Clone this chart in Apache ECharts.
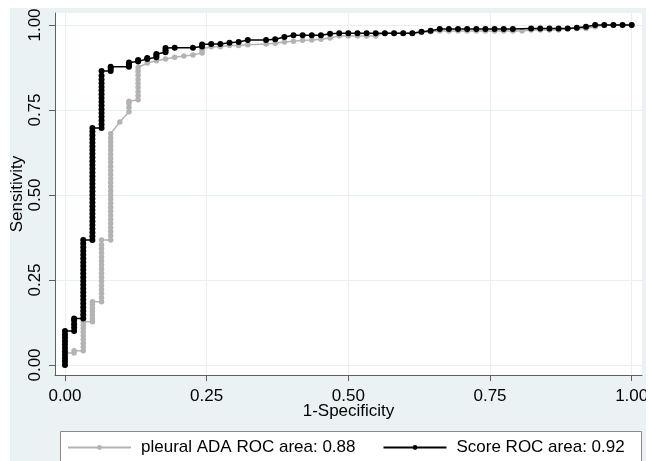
<!DOCTYPE html>
<html>
<head>
<meta charset="utf-8">
<script src="https://cdn.jsdelivr.net/npm/echarts@6.0.0/dist/echarts.min.js"></script>
<style>
    html, body { margin: 0; padding: 0; background: #fff; }
    #chart { position: absolute; left: 10px; top: 8px; width: 636px; height: 453px; }
</style>
</head>
<body>
<div id="chart"></div>
<script>
// number of non-diseased cases: 1-Specificity moves in steps of 1/62
var nNeg = 62;

// [false positives, sensitivity] (black)
var scoreRoc = [
    [0, 0], [0, 0.01], [0, 0.02], [0, 0.03], [0, 0.04], [0, 0.05], [0, 0.06], [0, 0.07], [0, 0.08], [0, 0.09], [0, 0.10],
    [1, 0.10], [1, 0.11], [1, 0.12], [1, 0.13], [1, 0.137],
    [2, 0.137], [2, 0.148], [2, 0.159], [2, 0.17], [2, 0.181], [2, 0.192], [2, 0.203], [2, 0.214], [2, 0.225], [2, 0.236],
    [2, 0.247], [2, 0.258], [2, 0.269], [2, 0.28], [2, 0.291], [2, 0.302], [2, 0.313], [2, 0.324], [2, 0.335], [2, 0.346],
    [2, 0.357], [2, 0.368],
    [3, 0.368], [3, 0.379], [3, 0.39], [3, 0.401], [3, 0.412], [3, 0.423], [3, 0.434], [3, 0.445], [3, 0.456], [3, 0.467],
    [3, 0.478], [3, 0.489], [3, 0.5], [3, 0.511], [3, 0.522], [3, 0.533], [3, 0.544], [3, 0.555], [3, 0.566], [3, 0.577],
    [3, 0.588], [3, 0.599], [3, 0.61], [3, 0.621], [3, 0.632], [3, 0.643], [3, 0.654], [3, 0.665], [3, 0.676], [3, 0.687],
    [3, 0.697],
    [4, 0.697], [4, 0.708], [4, 0.719], [4, 0.73], [4, 0.741], [4, 0.752], [4, 0.763], [4, 0.774], [4, 0.785], [4, 0.796],
    [4, 0.807], [4, 0.818], [4, 0.829], [4, 0.84], [4, 0.851], [4, 0.865],
    [5, 0.865], [5, 0.871], [5, 0.877],
    [7, 0.877], [7, 0.884], [7, 0.89],
    [8, 0.893], [8, 0.897], [9, 0.9], [9, 0.903],
    [10, 0.905], [10, 0.91], [10, 0.915],
    [11, 0.92], [11, 0.926], [11, 0.932],
    [12, 0.933], [14, 0.933], [15, 0.937], [15, 0.943], [16, 0.944], [17, 0.944], [18, 0.948], [19, 0.95],
    [20, 0.956], [22, 0.956], [23, 0.958], [24, 0.965], [25, 0.97], [26, 0.97], [27, 0.97], [28, 0.97],
    [29, 0.974], [30, 0.976], [31, 0.976], [32, 0.976], [33, 0.976], [34, 0.976], [35, 0.976], [36, 0.976],
    [37, 0.976], [38, 0.976], [39, 0.98], [40, 0.983], [41, 0.988], [42, 0.988], [43, 0.988], [44, 0.988],
    [45, 0.988], [46, 0.988], [47, 0.988], [48, 0.988], [49, 0.988], [51, 0.99], [52, 0.99], [53, 0.99],
    [54, 0.99], [55, 0.99], [56, 0.992], [57, 0.995], [58, 1], [59, 1], [60, 1], [61, 1], [62, 1]
];

// [false positives, sensitivity] (grey)
var adaRoc = [
    [0, 0], [0, 0.012], [0, 0.024], [0, 0.035],
    [1, 0.035], [1, 0.042],
    [2, 0.042], [2, 0.053], [2, 0.064], [2, 0.075], [2, 0.086], [2, 0.097], [2, 0.108], [2, 0.118], [2, 0.127],
    [3, 0.127], [3, 0.137], [3, 0.147], [3, 0.157], [3, 0.167], [3, 0.177], [3, 0.186],
    [4, 0.186], [4, 0.198], [4, 0.21], [4, 0.222], [4, 0.234], [4, 0.246], [4, 0.258], [4, 0.27], [4, 0.282], [4, 0.294],
    [4, 0.306], [4, 0.318], [4, 0.33], [4, 0.342], [4, 0.354], [4, 0.368],
    [5, 0.368], [5, 0.38], [5, 0.392], [5, 0.404], [5, 0.416], [5, 0.428], [5, 0.44], [5, 0.452], [5, 0.464], [5, 0.476],
    [5, 0.488], [5, 0.5], [5, 0.512], [5, 0.524], [5, 0.536], [5, 0.548], [5, 0.56], [5, 0.572], [5, 0.584], [5, 0.596],
    [5, 0.608], [5, 0.62], [5, 0.632], [5, 0.644], [5, 0.656], [5, 0.668], [5, 0.68],
    [6, 0.715],
    [7, 0.745], [7, 0.757], [7, 0.769], [7, 0.776],
    [8, 0.78], [8, 0.792], [8, 0.804], [8, 0.816], [8, 0.828], [8, 0.84], [8, 0.852], [8, 0.864], [8, 0.875],
    [9, 0.888], [10, 0.895], [11, 0.9], [12, 0.905], [13, 0.909], [14, 0.912],
    [15, 0.918], [15, 0.924], [15, 0.93], [16, 0.936], [17, 0.936], [18, 0.94], [19, 0.94], [20, 0.942],
    [22, 0.944], [23, 0.946], [24, 0.95], [25, 0.952], [26, 0.955], [27, 0.956], [28, 0.958], [29, 0.962],
    [30, 0.968], [31, 0.968], [32, 0.968], [33, 0.968], [34, 0.968], [35, 0.976], [36, 0.976], [37, 0.976],
    [38, 0.976], [39, 0.978], [40, 0.98], [41, 0.982], [42, 0.982], [43, 0.982], [44, 0.982], [45, 0.982],
    [46, 0.982], [47, 0.982], [48, 0.982], [49, 0.982], [50, 0.982], [51, 0.985], [52, 0.985], [53, 0.985],
    [54, 0.985], [55, 0.99], [56, 0.99], [57, 0.99], [58, 0.995], [59, 1], [60, 1], [61, 1], [62, 1]
];

var seriesNames = ['pleural ADA ROC area: 0.88', 'Score ROC area: 0.92'];
var xTicks = [0, 0.25, 0.5, 0.75, 1];
var yTicks = [0, 0.25, 0.5, 0.75, 1];

var font = "'Liberation Sans', Arial, sans-serif";
var axisGrey = '#5f5f5f';
var gridColor = '#e6eff1';

function toPoints(list) {
    return list.map(function (p) {
        return [p[0] / nNeg, p[1]];
    });
}

var option = {
    backgroundColor: '#eaf2f3',
    animation: false,
    grid: {
        left: 45,
        top: 5,
        right: 4,
        bottom: 86,
        show: true,
        backgroundColor: '#ffffff',
        borderWidth: 0,
        outerBoundsMode: 'none'
    },
    xAxis: {
        type: 'value',
        min: -0.0176,
        max: 1.0182,
        name: '1-Specificity',
        nameLocation: 'middle',
        nameGap: 28,
        nameMoveOverlap: false,
        nameTextStyle: {fontFamily: font, fontSize: 17, color: '#000'},
        axisLine: {show: true, onZero: false, lineStyle: {color: axisGrey, width: 1}},
        axisTick: {show: true, length: 6, customValues: xTicks, lineStyle: {color: axisGrey}},
        axisLabel: {
            customValues: xTicks,
            margin: 13,
            fontFamily: font,
            fontSize: 17,
            color: '#000',
            formatter: function (v) { return v.toFixed(2); }
        },
        splitLine: {show: true, lineStyle: {color: gridColor, width: 1}}
    },
    yAxis: {
        type: 'value',
        min: -0.0294,
        max: 1.0353,
        name: 'Sensitivity',
        nameLocation: 'middle',
        nameGap: 29,
        nameMoveOverlap: false,
        nameTextStyle: {fontFamily: font, fontSize: 17, color: '#000'},
        axisLine: {show: true, onZero: false, lineStyle: {color: axisGrey, width: 1}},
        axisTick: {show: true, length: 6, customValues: yTicks, lineStyle: {color: axisGrey}},
        axisLabel: {
            customValues: yTicks,
            rotate: 90,
            margin: 11,
            fontFamily: font,
            fontSize: 17,
            color: '#000',
            formatter: function (v) { return v.toFixed(2); }
        },
        splitLine: {show: true, lineStyle: {color: gridColor, width: 1}}
    },
    legend: {
        left: 52,
        top: 426,
        itemWidth: 63,
        itemHeight: 6,
        itemGap: 27,
        textStyle: {fontFamily: font, fontSize: 17, color: '#000', padding: [0, 0, 0, 5]},
        data: seriesNames
    },
    graphic: [
        {
            type: 'rect',
            z: 1,
            shape: {x: 50.5, y: 423.5, width: 581, height: 60},
            style: {fill: '#ffffff', stroke: '#8a8a8a', lineWidth: 1}
        }
    ],
    series: [
        {
            name: seriesNames[0],
            type: 'line',
            data: toPoints(adaRoc),
            symbol: 'circle',
            symbolSize: 5.5,
            color: '#b3b3b3',
            lineStyle: {color: '#b3b3b3', width: 1.5},
            itemStyle: {color: '#b3b3b3'},
            silent: true,
            z: 2
        },
        {
            name: seriesNames[1],
            type: 'line',
            data: toPoints(scoreRoc),
            symbol: 'circle',
            symbolSize: 6,
            color: '#000000',
            lineStyle: {color: '#000000', width: 1.5},
            itemStyle: {color: '#000000'},
            silent: true,
            z: 3
        }
    ]
};

var myChart = echarts.init(document.getElementById('chart'));
myChart.setOption(option);
</script>
</body>
</html>
